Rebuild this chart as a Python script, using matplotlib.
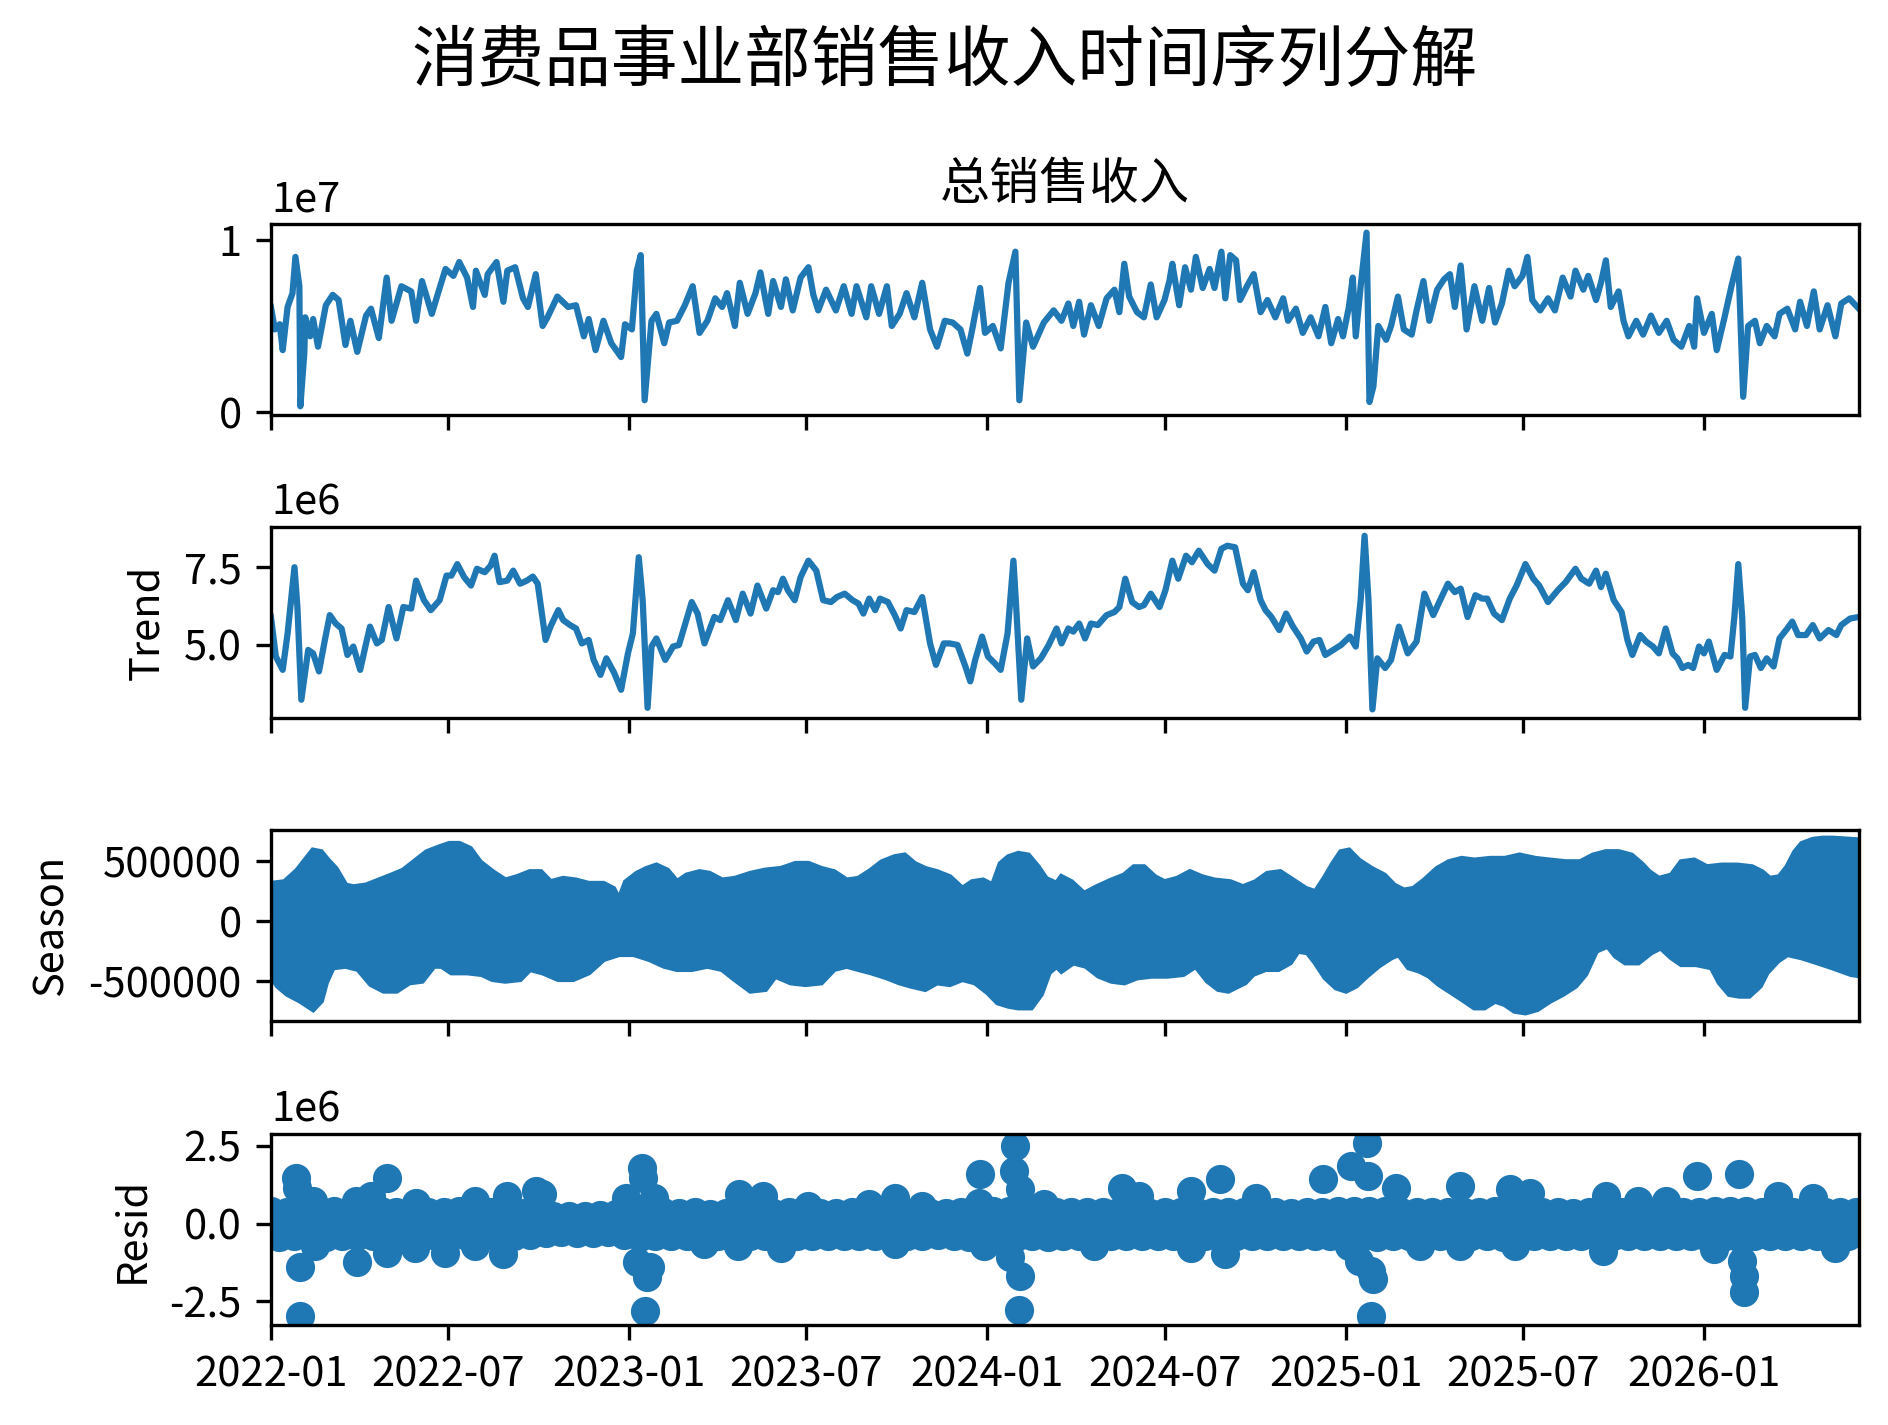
import numpy as np
import matplotlib
matplotlib.use("Agg")
import matplotlib.pyplot as plt
import matplotlib.dates as mdates

plt.rcParams['font.family'] = ['Noto Sans CJK SC', 'DejaVu Sans']
plt.rcParams['axes.unicode_minus'] = False

# ---------------- data (day offsets from 2022-01-01, values) ----------------
start_date = np.datetime64('2022-01-01')
end_day = 1619

main_title = '消费品事业部销售收入时间序列分解'
observed_name = '总销售收入'
component_labels = ['Trend', 'Season', 'Resid']

# observed total sales (millions)
observed_points = [
    (0, 6.1), (4, 4.8), (9, 5.1), (12, 3.6), (17, 6.1), (22, 6.9), (25, 9.0), (29, 7.3), (30, 0.35),
    (34, 3.4), (35, 5.5), (40, 4.4), (43, 5.4), (48, 3.8), (56, 6.2), (63, 6.8), (69, 6.5), (76, 3.9),
    (81, 5.3), (88, 3.5), (97, 5.6), (102, 6.0), (110, 4.3), (118, 7.8), (123, 5.3), (133, 7.3),
    (143, 7.0), (148, 5.3), (154, 7.6), (164, 5.7), (172, 7.2), (178, 8.3), (186, 7.9), (192, 8.7),
    (200, 7.8), (206, 6.1), (209, 8.2), (218, 6.8), (221, 8.0), (230, 8.7), (237, 6.4), (241, 8.2),
    (249, 8.4), (257, 6.6), (262, 6.1), (270, 8.0), (277, 5.0), (282, 5.5), (292, 6.7), (303, 6.1),
    (311, 6.2), (319, 4.4), (324, 5.4), (331, 3.6), (339, 5.3), (347, 4.0), (357, 3.2), (361, 5.1),
    (368, 4.8), (373, 8.2), (377, 9.1), (381, 0.7), (388, 5.3), (393, 5.7), (401, 4.0), (406, 5.2),
    (414, 5.3), (422, 6.2), (430, 7.3), (437, 4.6), (445, 5.3), (453, 6.6), (460, 6.1), (465, 6.9),
    (473, 5.0), (478, 7.5), (486, 5.7), (494, 6.9), (499, 8.1), (507, 5.7), (512, 7.6), (520, 6.1),
    (525, 7.7), (532, 5.9), (540, 7.8), (548, 8.4), (553, 6.8), (558, 5.9), (566, 7.1), (576, 5.9),
    (584, 7.3), (592, 5.7), (597, 7.3), (607, 5.5), (612, 7.3), (620, 5.7), (628, 7.3), (633, 5.0),
    (641, 5.7), (648, 6.9), (656, 5.5), (664, 7.5), (672, 4.8), (679, 3.8), (687, 5.3), (695, 5.2),
    (703, 4.8), (710, 3.4), (715, 4.8), (723, 7.2), (728, 4.6), (736, 5.0), (744, 3.7), (752, 7.5),
    (759, 9.3), (763, 0.7), (770, 5.2), (777, 3.8), (788, 5.2), (798, 5.9),
    (806, 5.3), (813, 6.3), (818, 5.0), (824, 6.4), (829, 4.5), (836, 6.2), (844, 5.0), (852, 6.6),
    (860, 7.1), (865, 5.8), (870, 8.6), (875, 6.7), (883, 5.8), (890, 5.5), (897, 7.4), (903, 5.5),
    (911, 6.5), (916, 7.6), (919, 8.6), (926, 6.2), (932, 8.4), (938, 7.1), (943, 9.0), (950, 7.2),
    (957, 8.3), (962, 7.2), (969, 9.3), (973, 6.6), (978, 9.1), (984, 8.8), (988, 6.5), (996, 7.4),
    (1002, 8.0), (1009, 5.8), (1016, 6.5), (1024, 5.5), (1032, 6.6), (1037, 5.3), (1045, 6.0),
    (1052, 4.6), (1060, 5.5), (1068, 4.4), (1075, 6.1), (1081, 4.0), (1088, 5.4), (1093, 4.4),
    (1099, 6.1), (1103, 7.8), (1106, 4.4), (1111, 7.3), (1117, 10.4), (1120, 0.6), (1124, 1.5),
    (1129, 5.0), (1137, 4.2), (1142, 5.0), (1149, 6.7), (1155, 4.8), (1163, 4.5), (1168, 5.9),
    (1175, 7.6), (1181, 5.3), (1189, 7.1), (1196, 7.7), (1202, 8.0), (1207, 6.1), (1213, 8.5),
    (1219, 4.8), (1227, 7.3), (1235, 5.3), (1242, 7.2), (1248, 5.2), (1255, 6.3), (1262, 8.2),
    (1268, 7.3), (1276, 7.9), (1281, 9.0), (1286, 6.5), (1294, 5.9), (1302, 6.6), (1309, 5.9),
    (1317, 7.8), (1325, 6.7), (1330, 8.2), (1338, 7.1), (1343, 7.9), (1351, 6.5), (1356, 7.5),
    (1361, 8.8), (1366, 6.1), (1374, 7.0), (1379, 5.3), (1384, 4.4), (1392, 5.3), (1399, 4.5),
    (1407, 5.6), (1415, 4.6), (1423, 5.3), (1430, 4.2), (1438, 3.8), (1446, 5.0), (1451, 3.8),
    (1454, 6.6), (1461, 4.6), (1469, 5.7), (1474, 3.6), (1482, 5.5), (1489, 7.3), (1496, 8.9),
    (1501, 0.9), (1506, 5.0), (1513, 5.3), (1518, 4.0), (1525, 5.0), (1533, 4.4), (1538, 5.7),
    (1546, 6.0), (1554, 4.8), (1559, 6.4), (1566, 5.0), (1573, 7.0), (1579, 4.8), (1587, 6.2),
    (1595, 4.4), (1601, 6.3), (1609, 6.6), (1619, 6.0),
]

# trend (millions)
trend_points = [
    (0, 5.9), (5, 4.63), (12, 4.2), (17, 5.37), (24, 7.5), (27, 6.22), (31, 3.24), (38, 4.84),
    (43, 4.73), (49, 4.15), (55, 5.16), (60, 5.96), (66, 5.69), (72, 5.53), (78, 4.68), (84, 4.95),
    (91, 4.2), (97, 5.05), (101, 5.59), (108, 5.05), (113, 5.16), (120, 6.22), (128, 5.21),
    (135, 6.22), (143, 6.17), (148, 7.07), (156, 6.44), (163, 6.12), (172, 6.44), (179, 7.23),
    (184, 7.23), (190, 7.6), (197, 7.18), (204, 6.91), (210, 7.45), (218, 7.34), (224, 7.55),
    (228, 7.87), (233, 7.02), (241, 7.07), (247, 7.39), (254, 6.97), (261, 7.07), (267, 7.2),
    (272, 6.97), (280, 5.16), (285, 5.59), (293, 6.12), (298, 5.8), (305, 5.64), (311, 5.53),
    (317, 5.05), (324, 5.16), (329, 4.52), (336, 4.04), (342, 4.57), (350, 4.1), (357, 3.56),
    (364, 4.73), (369, 5.37), (375, 7.82), (379, 6.44), (384, 2.98), (388, 4.95), (393, 5.21),
    (402, 4.52), (410, 4.95), (416, 5.0), (422, 5.64), (429, 6.38), (435, 6.01), (442, 5.05),
    (452, 5.9), (458, 5.8), (466, 6.44), (474, 5.8), (481, 6.65), (489, 6.01), (496, 6.91),
    (505, 6.17), (512, 6.76), (517, 6.7), (522, 7.13), (527, 6.76), (534, 6.44), (540, 7.18),
    (548, 7.71), (556, 7.39), (563, 6.44), (571, 6.38), (577, 6.54), (585, 6.65), (593, 6.44),
    (599, 6.33), (604, 6.01), (610, 6.49), (616, 6.12), (621, 6.49), (629, 6.38), (636, 5.96),
    (642, 5.53), (648, 6.12), (656, 6.06), (664, 6.54), (672, 5.05), (678, 4.36), (686, 5.05),
    (692, 5.05), (700, 5.0), (708, 4.31), (713, 3.83), (718, 4.52), (725, 5.27), (731, 4.63),
    (738, 4.41), (744, 4.2), (751, 5.37), (757, 7.71), (760, 6.12), (765, 3.24), (771, 5.21),
    (777, 4.31), (785, 4.57), (793, 5.0), (801, 5.53),
    (806, 5.05), (813, 5.53), (818, 5.43), (824, 5.69), (830, 5.21), (836, 5.69), (843, 5.64),
    (852, 5.96), (860, 6.06), (865, 6.22), (871, 7.13), (878, 6.38), (885, 6.22), (890, 6.28),
    (897, 6.65), (906, 6.22), (912, 6.76), (919, 7.71), (925, 7.13), (933, 7.87), (939, 7.66),
    (946, 8.03), (955, 7.6), (962, 7.39), (969, 8.09), (975, 8.19), (983, 8.14), (991, 6.97),
    (996, 6.76), (1002, 7.34), (1009, 6.44), (1014, 6.12), (1020, 5.9), (1028, 5.48), (1035, 6.01),
    (1042, 5.59), (1050, 5.21), (1056, 4.79), (1063, 5.11), (1069, 5.16), (1075, 4.68), (1083, 4.84),
    (1091, 5.0), (1100, 5.27), (1106, 4.95), (1111, 6.44), (1115, 8.51), (1119, 6.44), (1123, 2.93),
    (1128, 4.57), (1136, 4.26), (1142, 4.52), (1150, 5.59), (1159, 4.73), (1168, 5.11), (1176, 6.65),
    (1185, 5.96), (1192, 6.44), (1200, 6.97), (1207, 6.7), (1213, 6.81), (1220, 5.9), (1228, 6.6),
    (1235, 6.49), (1240, 6.49), (1247, 6.01), (1255, 5.8), (1263, 6.49), (1270, 6.91), (1279, 7.6),
    (1287, 7.13), (1293, 6.91), (1302, 6.38), (1312, 6.76), (1320, 7.02), (1330, 7.45), (1336, 7.13),
    (1344, 6.97), (1351, 7.39), (1356, 6.86), (1361, 7.29), (1369, 6.44), (1377, 6.06), (1383, 5.16),
    (1388, 4.68), (1396, 5.32), (1402, 5.11), (1409, 4.95), (1415, 4.73), (1422, 5.53), (1429, 4.73),
    (1434, 4.57), (1439, 4.26), (1445, 4.36), (1450, 4.26), (1456, 4.95), (1461, 4.73), (1466, 5.11),
    (1474, 4.2), (1482, 4.68), (1488, 4.63), (1492, 5.9), (1496, 7.6), (1500, 5.9), (1503, 2.98),
    (1508, 4.63), (1513, 4.68), (1519, 4.26), (1525, 4.57), (1532, 4.31), (1538, 5.21), (1546, 5.53),
    (1551, 5.75), (1557, 5.32), (1565, 5.32), (1572, 5.64), (1579, 5.21), (1588, 5.48), (1596, 5.32),
    (1601, 5.64), (1610, 5.85), (1619, 5.9),
]

# season: upper / lower envelope of the weekly cycle (thousands)
season_upper = [
    (0, 312), (14, 326), (27, 423), (35, 507), (43, 590), (51, 577), (58, 507), (66, 437), (76, 298),
    (84, 284), (97, 298), (110, 340), (123, 382), (135, 423), (148, 507), (159, 577), (172, 618),
    (182, 646), (192, 646), (203, 605), (213, 493), (226, 410), (239, 340), (251, 368), (264, 410),
    (275, 410), (285, 326), (298, 354), (311, 340), (324, 312), (339, 312), (349, 270), (355, 173),
    (362, 326), (373, 396), (383, 437), (393, 465), (404, 423), (414, 326), (424, 382), (437, 410),
    (447, 396), (460, 340), (473, 354), (489, 396), (504, 423), (520, 437), (535, 479), (548, 479),
    (561, 437), (574, 410), (587, 340), (599, 354), (612, 423), (623, 493), (636, 535), (646, 549),
    (656, 479), (667, 437), (679, 410), (692, 368), (705, 270), (715, 326), (726, 340), (736, 298),
    (744, 479), (752, 535), (762, 563), (772, 549), (782, 451), (790, 354), (801, 312),
    (806, 368), (816, 326), (829, 228), (842, 284), (857, 340), (870, 382), (880, 451), (890, 451),
    (901, 368), (911, 326), (924, 354), (937, 410), (949, 368), (962, 340), (978, 326), (991, 284),
    (1004, 326), (1016, 396), (1029, 410), (1042, 340), (1055, 270), (1065, 242), (1074, 354),
    (1083, 479), (1091, 577), (1099, 590), (1109, 507), (1122, 437), (1135, 382), (1145, 298),
    (1155, 256), (1165, 270), (1176, 340), (1189, 437), (1201, 493), (1214, 521), (1227, 507),
    (1243, 521), (1258, 521), (1273, 549), (1289, 521), (1304, 507), (1320, 493), (1335, 493),
    (1348, 549), (1361, 577), (1374, 577), (1387, 549), (1397, 479), (1405, 410), (1415, 354),
    (1428, 382), (1438, 493), (1451, 507), (1464, 451), (1479, 465), (1495, 465), (1510, 451),
    (1520, 410), (1528, 354), (1538, 368), (1546, 451), (1554, 577), (1561, 646), (1572, 680),
    (1582, 690), (1592, 690), (1602, 685), (1611, 680), (1619, 675),
]
season_lower = [
    (0, -454), (7, -538), (17, -607), (30, -663), (43, -733), (51, -663), (56, -510), (63, -384),
    (76, -371), (89, -398), (102, -524), (115, -579), (128, -579), (141, -510), (154, -496),
    (166, -371), (174, -371), (184, -426), (200, -426), (215, -440), (226, -482), (239, -496),
    (254, -482), (264, -398), (277, -426), (293, -482), (308, -482), (324, -426), (339, -315),
    (355, -273), (370, -273), (386, -315), (401, -371), (414, -398), (429, -398), (445, -371),
    (460, -398), (473, -482), (489, -579), (504, -565), (514, -454), (530, -510), (545, -524),
    (561, -510), (574, -398), (587, -371), (599, -398), (612, -426), (628, -468), (641, -510),
    (653, -538), (667, -565), (679, -510), (692, -524), (705, -482), (718, -510), (731, -593),
    (741, -677), (752, -705), (762, -719), (775, -719), (785, -607), (793, -426), (801, -371),
    (806, -412), (818, -343), (831, -371), (844, -454), (857, -496), (870, -510), (883, -468),
    (898, -454), (914, -454), (930, -440), (943, -371), (955, -496), (966, -565), (976, -579),
    (986, -538), (993, -510), (1001, -440), (1014, -398), (1027, -398), (1039, -343), (1047, -245),
    (1057, -259), (1065, -343), (1075, -468), (1086, -552), (1096, -579), (1106, -538), (1117, -454),
    (1129, -371), (1142, -301), (1150, -273), (1160, -384), (1171, -412), (1181, -454), (1191, -524),
    (1204, -593), (1217, -663), (1227, -719), (1237, -719), (1248, -663), (1258, -691), (1268, -747),
    (1279, -761), (1291, -733), (1304, -663), (1317, -607), (1330, -538), (1340, -440), (1351, -245),
    (1363, -203), (1371, -287), (1381, -343), (1394, -343), (1407, -259), (1417, -217), (1428, -301),
    (1438, -357), (1453, -357), (1469, -384), (1477, -510), (1487, -607), (1497, -621), (1507, -621),
    (1518, -538), (1525, -426), (1536, -329), (1546, -273), (1561, -301), (1577, -343), (1592, -384),
    (1611, -440), (1619, -450),
]

# residual: dense band values every 8 days (millions)
resid_band_step = 8
resid_band = [
    0.40, -0.42, 0.38, -0.41, 0.40, -0.40, 0.37, -0.42, 0.40, -0.39,
    0.40, -0.41, 0.37, -0.40, 0.39, -0.42, 0.38, -0.41, 0.40, -0.42,
    0.38, -0.40, 0.37, -0.40, 0.39, -0.41, 0.35, -0.41, 0.38, -0.40,
    0.37, -0.40, 0.35, -0.38, 0.28, -0.30, 0.25, -0.28, 0.23, -0.29,
    0.24, -0.30, 0.26, -0.28, 0.32, -0.36, 0.40, -0.42, 0.40, -0.41,
    0.37, -0.40, 0.34, -0.39, 0.36, -0.38, 0.32, -0.40, 0.34, -0.39,
    0.37, -0.41, 0.35, -0.39, 0.34, -0.40, 0.37, -0.39, 0.35, -0.41,
    0.35, -0.39, 0.34, -0.40, 0.36, -0.39, 0.35, -0.41, 0.37, -0.40,
    0.35, -0.39, 0.34, -0.40, 0.33, -0.37, 0.35, -0.41, 0.38, -0.42,
    0.40, -0.42, 0.41, -0.43, 0.40, -0.42, 0.38, -0.41, 0.40, -0.42,
    0.38, -0.41, 0.37, -0.40, 0.38, -0.41, 0.36, -0.40, 0.38, -0.40,
    0.37, -0.41, 0.35, -0.40, 0.38, -0.41, 0.37, -0.42, 0.38, -0.40,
    0.37, -0.41, 0.36, -0.39, 0.38, -0.41, 0.35, -0.40, 0.37, -0.39,
    0.35, -0.39, 0.37, -0.40, 0.38, -0.41, 0.40, -0.42, 0.41, -0.43,
    0.41, -0.42, 0.40, -0.41, 0.38, -0.40, 0.37, -0.41, 0.38, -0.41,
    0.38, -0.41, 0.37, -0.40, 0.38, -0.41, 0.39, -0.42, 0.37, -0.40,
    0.36, -0.39, 0.37, -0.41, 0.38, -0.40, 0.35, -0.39, 0.37, -0.41,
    0.38, -0.41, 0.37, -0.39, 0.36, -0.40, 0.38, -0.41, 0.37, -0.40,
    0.38, -0.41, 0.38, -0.42, 0.40, -0.42, 0.41, -0.42, 0.39, -0.41,
    0.38, -0.41, 0.37, -0.40, 0.38, -0.41, 0.38, -0.40, 0.37, -0.41,
    0.38, -0.40, 0.38,
]
# residual: larger individual points (day, millions)
resid_outliers = [
    (26, 1.47), (27, 1.15), (30, -1.41), (30, -2.98), (43, 0.73), (45, -0.72), (87, 0.73),
    (88, -1.25), (102, 0.89), (118, 1.47), (118, -0.93), (148, 0.67), (147, -0.77), (177, -0.93),
    (208, 0.73), (208, -0.72), (237, -0.98), (241, 0.89), (270, 1.05), (276, 0.94), (362, 0.83),
    (378, 1.79), (379, 1.47), (373, -1.25), (383, -1.73), (386, -1.41), (381, -2.80), (391, 0.83),
    (442, -0.66), (477, 0.94), (476, -0.72), (502, 0.89), (520, -0.77), (548, 0.57), (610, 0.62),
    (636, 0.83), (636, -0.66), (664, 0.57), (727, -0.72), (723, 1.58), (722, 0.67), (759, 2.49),
    (758, 1.69), (764, 1.10), (754, -1.09), (764, -1.68), (763, -2.77), (788, 0.62), (839, -0.72),
    (868, 1.15), (885, 0.89), (938, 1.05), (938, -0.77), (968, 1.42), (973, -0.98), (1004, 0.83),
    (1073, 1.42), (1101, 1.85), (1117, 2.60), (1119, 1.53), (1147, 1.15), (1099, -0.72),
    (1109, -1.20), (1124, -1.79), (1122, -1.52), (1122, -2.96), (1171, -0.72), (1212, 1.21),
    (1212, -0.72), (1263, 1.10), (1268, -0.72), (1284, 0.99), (1358, -0.88), (1361, 0.89),
    (1394, 0.73), (1422, 0.73), (1454, 1.53), (1497, 1.58), (1502, -1.68), (1502, -2.21),
    (1500, -1.20), (1471, -0.82), (1536, 0.89), (1572, 0.83), (1595, -0.77),
]


def to_dates(days):
    return start_date + np.asarray(days, dtype='timedelta64[D]')


def unzip(points, scale):
    d = [p[0] for p in points]
    v = [p[1] * scale for p in points]
    return to_dates(d), np.array(v)


obs_x, obs_y = unzip(observed_points, 1e6)
tr_x, tr_y = unzip(trend_points, 1e6)
su_x, su_y = unzip(season_upper, 1e3)
sl_x, sl_y = unzip(season_lower, 1e3)
band_days = np.arange(len(resid_band)) * resid_band_step
band_x = to_dates(band_days)
band_y = np.array(resid_band) * 1e6
ro_x, ro_y = unzip(resid_outliers, 1e6)

xlim = (to_dates([0])[0], to_dates([end_day])[0])

# ---------------- figure ----------------
fig = plt.figure(figsize=(1888 / 300, 1425 / 300), dpi=300)
left, width, height = 0.1435, 0.8411, 0.134
bottoms = [0.7088, 0.4961, 0.2835, 0.0702]
axes = []
for i, b in enumerate(bottoms):
    if i == 0:
        ax = fig.add_axes([left, b, width, height])
    else:
        ax = fig.add_axes([left, b, width, height], sharex=axes[0])
    axes.append(ax)

color = 'C0'
axes[0].plot(obs_x, obs_y, color=color)
axes[0].set_title(observed_name)

axes[1].plot(tr_x, tr_y, color=color)
axes[1].set_ylabel(component_labels[0])

poly_x = np.concatenate([su_x, sl_x[::-1]])
poly_y = np.concatenate([su_y, sl_y[::-1]])
axes[2].fill(poly_x, poly_y, facecolor=color, edgecolor=color, linewidth=1.5)
axes[2].set_ylabel(component_labels[1])

axes[3].plot(band_x, band_y, marker='o', linestyle='none', color=color)
axes[3].plot(ro_x, ro_y, marker='o', linestyle='none', color=color)
axes[3].set_ylabel(component_labels[2])

for ax in axes:
    ax.set_xlim(xlim)
axes[0].xaxis.set_major_locator(mdates.MonthLocator(bymonth=[1, 7]))
axes[0].xaxis.set_major_formatter(mdates.DateFormatter('%Y-%m'))
for ax in axes[:-1]:
    ax.tick_params(labelbottom=False)

fig.suptitle(main_title, fontsize=16, y=0.98)

fig.savefig('out.png', dpi=300)
